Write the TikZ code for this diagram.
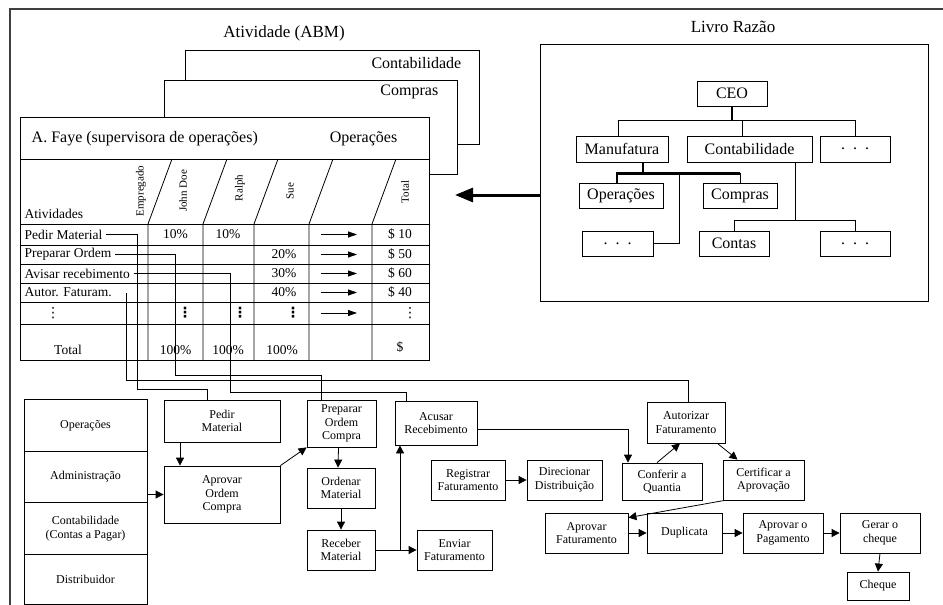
\documentclass[tikz,border=0pt]{standalone}
\usepackage{fontspec}
\setmainfont{Liberation Serif}
\newfontfamily\simbolo{DejaVu Sans}
\usetikzlibrary{arrows.meta,positioning}

\begin{document}
\begin{tikzpicture}[x=1pt,y=-1pt,line width=0.8pt,
	caixa/.style 2 args={draw, align=center, inner sep=1pt, minimum width=#1pt, minimum height=#2pt, font=\fontsize{12}{13.5}\selectfont},
	faixa/.style={draw, align=center, minimum width=123pt, minimum height=51.5pt, font=\fontsize{12}{13.5}\selectfont},
	org/.style 2 args={draw, inner sep=1pt, minimum width=#1pt, minimum height=#2pt, font=\fontsize{16}{18}\selectfont},
	titulo/.style={font=\fontsize{17}{19}\selectfont},
	folha/.style={font=\fontsize{16}{18}\selectfont},
	linha/.style={font=\fontsize{13.5}{15}\selectfont},
	pontos/.style={inner sep=0pt, font=\simbolo\fontsize{14}{15}\selectfont},
	rot/.style={rotate=90, font=\fontsize{11}{12}\selectfont},
	seta/.style={-{Triangle[length=8pt,width=8pt]}},
	grossa/.style={line width=2.6pt}]
	\useasboundingbox (0,0) rectangle (943,605);
	\draw[line width=1.2pt, black!75] (10,605) -- (10,9) -- (943,9);

	\node[titulo] (tAbm) at (284,33) {Atividade (ABM)};
	\node[titulo] (tLivro) at (733,27) {Livro Razão};

	\draw[fill=white] (185,50) rectangle (479,144);
	\node[folha, anchor=east] (sContab) at (465,63) {Contabilidade};
	\draw[fill=white] (164,80) rectangle (457,174);
	\node[folha, anchor=east] (sCompras) at (442,92) {Compras};
	\draw[fill=white] (20,117) rectangle (429,360);
	\node[folha, anchor=west] (sFaye) at (28,139) {A. Faye (supervisora de operações)};
	\node[folha, anchor=east] (sOper) at (401,139) {Operações};
	\draw (20,159) -- (429,159);
	\foreach \y in {224,245,264,283,302,324}
		\draw (20,\y) -- (429,\y);
	\foreach \x in {148,203,254,309,372}
		\draw (\x+24,159) -- (\x,224) -- (\x,360);

	\node[rot] (hEmp) at (141,191) {Empregado};
	\node[rot] (hJohn) at (183,191) {John Doe};
	\node[rot] (hRalph) at (240,188) {Ralph};
	\node[rot] (hSue) at (290,191) {Sue};
	\node[rot] (hTotal) at (405,192) {Total};
	\node[linha, anchor=west] (rAtiv) at (21,214) {Atividades};

	\node[linha, anchor=west] (rPedir) at (21,234.5) {Pedir Material};
	\node[linha, anchor=west] (rPrep) at (21,254.5) {Preparar Ordem};
	\node[linha, anchor=west] (rAvisar) at (21,273.5) {Avisar recebimento};
	\node[linha, anchor=west] (rAutor) at (21,292.5) {Autor. Faturam.};
	\node[pontos] (rDots) at (53,313) {⋮};
	\node[linha] (rTotal) at (68,350) {Total};

	\node[linha] at (175.5,234.5) {10\%};
	\node[linha] at (228,234.5) {10\%};
	\node[linha] at (284,254.5) {20\%};
	\node[linha] at (284,273.5) {30\%};
	\node[linha] at (284,292.5) {40\%};
	\node[pontos] at (185,313) {\bfseries ⋮};
	\node[pontos] at (240,313) {\bfseries ⋮};
	\node[pontos] at (293,313) {\bfseries ⋮};
	\node[pontos] at (410,313) {⋮};
	\node[linha] at (175.5,350) {100\%};
	\node[linha] at (228,350) {100\%};
	\node[linha] at (282,350) {100\%};
	\node[linha] at (400,234.5) {\$ 10};
	\node[linha] at (400,254.5) {\$ 50};
	\node[linha] at (400,273.5) {\$ 60};
	\node[linha] at (400,292.5) {\$ 40};
	\node[linha] at (400,347) {\$};
	\foreach \y in {234.5,254.5,273.5,292.5,313}
		\draw[-{Triangle[length=9pt,width=6pt]}] (321,\y) -- (357,\y);

	\node[draw, minimum width=388pt, minimum height=257pt] (livro) at (734,172.5) {};
	\coordinate (ponta) at (455,195);
	\draw[line width=3pt, -{Triangle[length=18pt,width=14pt]}] (livro.west |- ponta) -- (ponta);

	\node[org={70}{25}] (ceo) at (732,93.5) {CEO};
	\node[org={92}{26}] (manuf) at (622,149) {Manufatura};
	\node[org={125}{26}] (contab) at (749.5,149) {Contabilidade};
	\node[org={70}{26}] (dotsA) at (855,149) {.\ \ .\ \ .};
	\node[org={84}{25}] (operacoes) at (621,195.5) {Operações};
	\node[org={74}{25}] (compras) at (740,195.5) {Compras};
	\node[org={71}{25}] (dotsB) at (617.5,243.5) {.\ \ .\ \ .};
	\node[org={70}{25}] (contas) at (734,243.5) {Contas};
	\node[org={70}{25}] (dotsC) at (855,243.5) {.\ \ .\ \ .};

	\draw[grossa] (ceo.south) -- ++(0,15);
	\draw ([xshift=-4]manuf.north) |- ++(0,-15) -| (dotsA.north);
	\draw ([xshift=-7]contab.north) -- ++(0,-15);
	\draw[grossa] ([xshift=21]manuf.south) -- ++(0,11) coordinate (m1);
	\draw[grossa] ([xshift=-4]operacoes.north) |- (compras.north |- m1);
	\draw (compras.north) -- (compras.north |- m1);
	\draw ([xshift=36]m1) |- (dotsB.east);
	\draw ([xshift=45.5]contab.south) -- ++(0,58) coordinate (c1);
	\draw (contas.north) |- (c1) -| (dotsC.north);

	\node[faixa] (ops) at (85.5,425.5) {Operações};
	\node[faixa] (adm) at (85.5,477) {Administração};
	\node[faixa] (cap) at (85.5,528.5) {Contabilidade\\(Contas a Pagar)};
	\node[faixa, minimum height=50pt] (dist) at (85.5,579) {Distribuidor};

	\node[caixa={116}{42}] (pedir) at (222,421) {Pedir\\Material};
	\node[caixa={116}{57}] (aprovOC) at (222,494.5) {Aprovar\\Ordem\\Compra};
	\node[caixa={69}{47}] (prep) at (341.5,423.5) {Preparar\\Ordem\\Compra};
	\node[caixa={68}{40}] (ordenar) at (341,488) {Ordenar\\Material};
	\node[caixa={68}{40}] (receber) at (341,550) {Receber\\Material};
	\node[caixa={82}{44}] (acusar) at (436,423) {Acusar\\Recebimento};
	\node[caixa={75}{40}] (enviar) at (454.5,550) {Enviar\\Faturamento};
	\node[caixa={74}{40}] (registrar) at (468,480) {Registrar\\Faturamento};
	\node[caixa={75}{40}] (direcionar) at (564.5,480) {Direcionar\\Distribuição};
	\node[caixa={80}{37}] (conferir) at (662,481.5) {Conferir a\\Quantia};
	\node[caixa={78}{41}] (autoriz) at (686,422.5) {Autorizar\\Faturamento};
	\node[caixa={81}{40}] (certif) at (763.5,480) {Certificar a\\Aprovação};
	\node[caixa={83}{40}] (aprovFat) at (586.5,533) {Aprovar\\Faturamento};
	\node[caixa={75}{40}] (duplicata) at (684.5,533) {Duplicata};
	\node[caixa={80}{40}] (aprovPag) at (783,533) {Aprovar o\\Pagamento};
	\node[caixa={80}{40}] (gerar) at (880,533) {Gerar o\\cheque};
	\node[caixa={62}{28}] (cheque) at (878,586) {Cheque};

	\coordinate (cAutor) at (126,293);
	\draw (rPedir.east) -| (137,389) -| ([xshift=-15]pedir.north);
	\draw (rPrep.east) -| (175,375) -| ([xshift=-20.5]prep.north);
	\draw (rAvisar.east) -| (230,392) -| ([xshift=-30]acusar.north);
	\draw (cAutor) |- ++(0,87) -| ([xshift=2]autoriz.north);

	\draw[seta] ([xshift=-42]pedir.south) -- ([xshift=-42]aprovOC.north);
	\draw[seta] (aprovOC.west -| adm.east) -- (aprovOC.west);
	\draw[seta] (aprovOC.north east) -- (prep.south west);
	\draw[seta] ([xshift=-3]prep.south) -- ([xshift=-3]ordenar.north);
	\draw[seta] (ordenar.south) -- (receber.north);
	\draw (receber.east) -- (400,550) coordinate (rx);
	\draw[seta] (rx) -- (acusar.south -| rx);
	\draw[seta] (rx) -- (enviar.west);
	\draw[seta] (registrar.east) -- (direcionar.west);
	\draw[seta] ([yshift=-6]acusar.east) -| ([xshift=-34]conferir.north);
	\draw[seta] ([xshift=-5]conferir.north) -- ([xshift=-6]autoriz.south);
	\draw[seta] ([xshift=-8]autoriz.south east) -- ([xshift=-26]certif.north);
	\draw[seta] ([xshift=2]certif.south west) -- ([yshift=-5]aprovFat.north east);
	\draw[seta] (aprovFat.east) -- (duplicata.west);
	\draw[seta] (duplicata.east) -- (aprovPag.west);
	\draw[seta] (aprovPag.east) -- (gerar.west);
	\draw[seta] (gerar.south) -- (cheque.north);
\end{tikzpicture}
\end{document}
